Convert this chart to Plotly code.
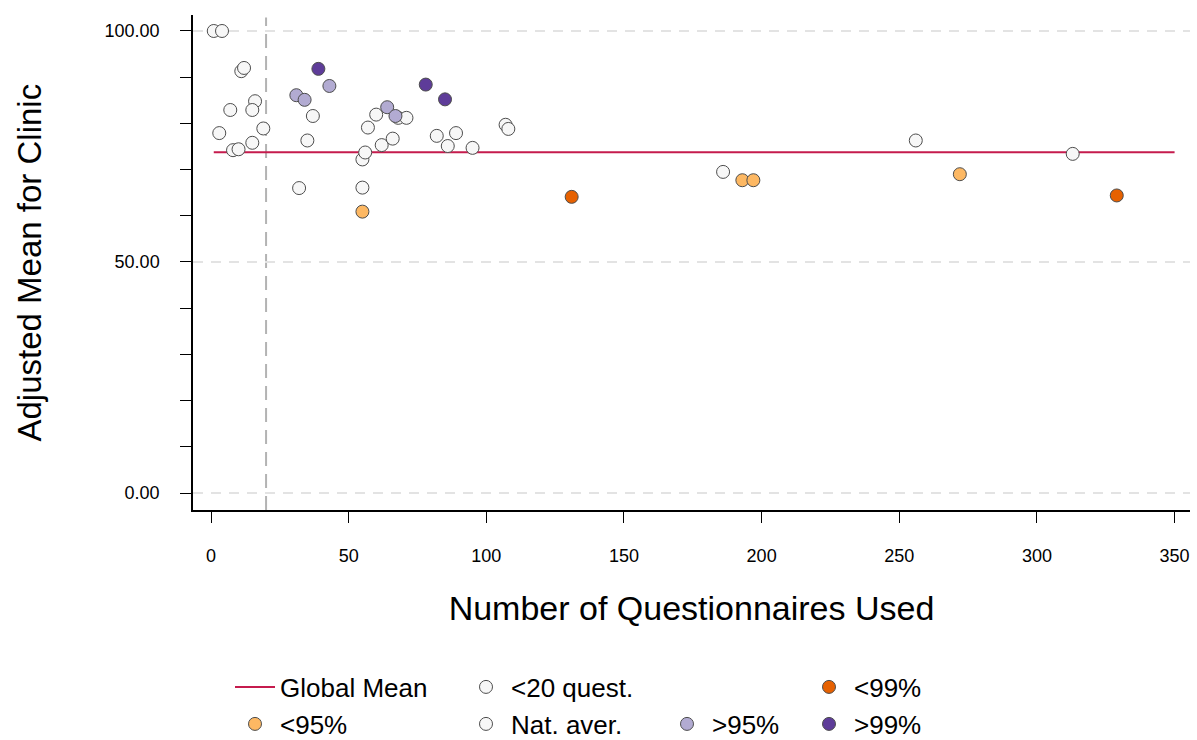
import plotly.graph_objects as go

# Clinics with fewer than 20 questionnaires
few_x = [1, 4, 11, 12, 7, 16, 15, 19, 3, 15, 8, 10]
few_y = [100.0, 100.0, 91.3, 92.0, 82.9, 84.8, 82.9, 78.9, 77.9, 75.8, 74.2, 74.4]

# Clinics around the national average
nat_x = [32, 35, 37, 55, 55, 56, 57, 60, 62, 66, 68, 71, 82, 86, 89, 95, 107, 108, 186, 256, 313]
nat_y = [66.0, 76.3, 81.6, 66.1, 72.2, 73.7, 79.1, 81.9, 75.3, 76.7, 81.2, 81.2,
         77.3, 75.1, 77.9, 74.7, 79.7, 78.8, 69.5, 76.3, 73.4]

# Significantly below the mean
below95_x = [55, 193, 197, 272]
below95_y = [60.9, 67.7, 67.7, 69.0]
below99_x = [131, 329]
below99_y = [64.1, 64.4]

# Significantly above the mean
above95_x = [31, 34, 43, 64, 67]
above95_y = [86.1, 85.1, 88.1, 83.5, 81.6]
above99_x = [39, 78, 85]
above99_y = [91.8, 88.4, 85.2]

global_mean = 73.75
mean_x = [1, 350]
min_questionnaires = 20

x_ticks = [0, 50, 100, 150, 200, 250, 300, 350]
y_ticks = [0, 50, 100]
y_minor = [10, 20, 30, 40, 60, 70, 80, 90]

FONT = "Liberation Sans, Arial, sans-serif"
OUTLINE = "#4d4d4d"

fig = go.Figure()

fig.add_trace(go.Scatter(
    x=mean_x, y=[global_mean, global_mean], mode="lines",
    line=dict(color="#c51b4d", width=2), name="Global Mean", legend="legend",
))


def points(xs, ys, color, name, legend):
    fig.add_trace(go.Scatter(
        x=xs, y=ys, mode="markers", name=name, legend=legend,
        marker=dict(size=13, color=color, line=dict(color=OUTLINE, width=1)),
    ))


points(few_x, few_y, "#f7f7f7", "<20 quest.", "legend2")
points(nat_x, nat_y, "#f7f7f7", "Nat. aver.", "legend3")
points(below95_x, below95_y, "#fdb863", "<95%", "legend4")
points(below99_x, below99_y, "#e66101", "<99%", "legend5")
points(above95_x, above95_y, "#b2abd2", ">95%", "legend6")
points(above99_x, above99_y, "#5e3c99", ">99%", "legend7")

# Cut-off for the minimum number of questionnaires
fig.add_shape(
    type="line", xref="x", yref="paper", x0=min_questionnaires, x1=min_questionnaires,
    y0=0, y1=0.995, line=dict(color="#b3b3b3", width=2, dash="14px,8px"), layer="below",
)

W, H = 1197, 740
L, R, T, B = 193, 7, 15, 230
pw = W - L - R

legend_font = dict(family=FONT, size=26, color="#000000")


def legend_at(px, py):
    # positioned in container coordinates so the plot area keeps its size
    return dict(
        xref="container", yref="container",
        x=px / W, y=(H - py) / H, xanchor="left", yanchor="middle",
        orientation="v", font=legend_font, bgcolor="rgba(0,0,0,0)",
        borderwidth=0, itemwidth=40,
    )


row1, row2 = 687, 724
col1, col2, col3, col4 = 230, 461, 662, 804

# Vertical axis title
fig.add_annotation(
    text="Adjusted Mean for Clinic", xref="paper", yref="paper",
    x=(29 - L) / pw, y=0.5, xanchor="center", yanchor="middle",
    textangle=-90, showarrow=False, font=dict(family=FONT, size=33, color="#000000"),
)

fig.update_layout(
    width=W, height=H,
    margin=dict(l=L, r=R, t=T, b=B, pad=0, autoexpand=False),
    paper_bgcolor="white", plot_bgcolor="white",
    font=dict(family=FONT, color="#000000"),
    showlegend=True,
    legend=legend_at(col1, row1),
    legend2=legend_at(col2, row1),
    legend3=legend_at(col2, row2),
    legend4=legend_at(col1, row2),
    legend5=legend_at(col4, row1),
    legend6=legend_at(col3, row2),
    legend7=legend_at(col4, row2),
    xaxis=dict(
        range=[-6.54, 355.6], tickvals=x_ticks, showgrid=False, zeroline=False,
        showline=True, linecolor="#000000", linewidth=1.5, automargin=False,
        ticks="outside", ticklen=11, tickwidth=1.2, tickcolor="#000000",
        tickfont=dict(family=FONT, size=18), ticklabelstandoff=18,
        title=dict(text="Number of Questionnaires Used",
                   font=dict(family=FONT, size=34), standoff=31),
    ),
    yaxis=dict(
        range=[-3.68, 103.46], tickvals=y_ticks, tickformat=".2f",
        showgrid=True, gridcolor="#e3e3e3", gridwidth=1.5, griddash="10px,8px",
        zeroline=False, showline=True, linecolor="#000000", linewidth=1.5,
        automargin=False,
        ticks="outside", ticklen=11, tickwidth=1.2, tickcolor="#000000",
        tickfont=dict(family=FONT, size=18), ticklabelstandoff=17,
        minor=dict(tickvals=y_minor, ticks="outside", ticklen=11, tickwidth=1.2,
                   tickcolor="#000000", showgrid=False),
    ),
)

fig.write_html("out.html")
